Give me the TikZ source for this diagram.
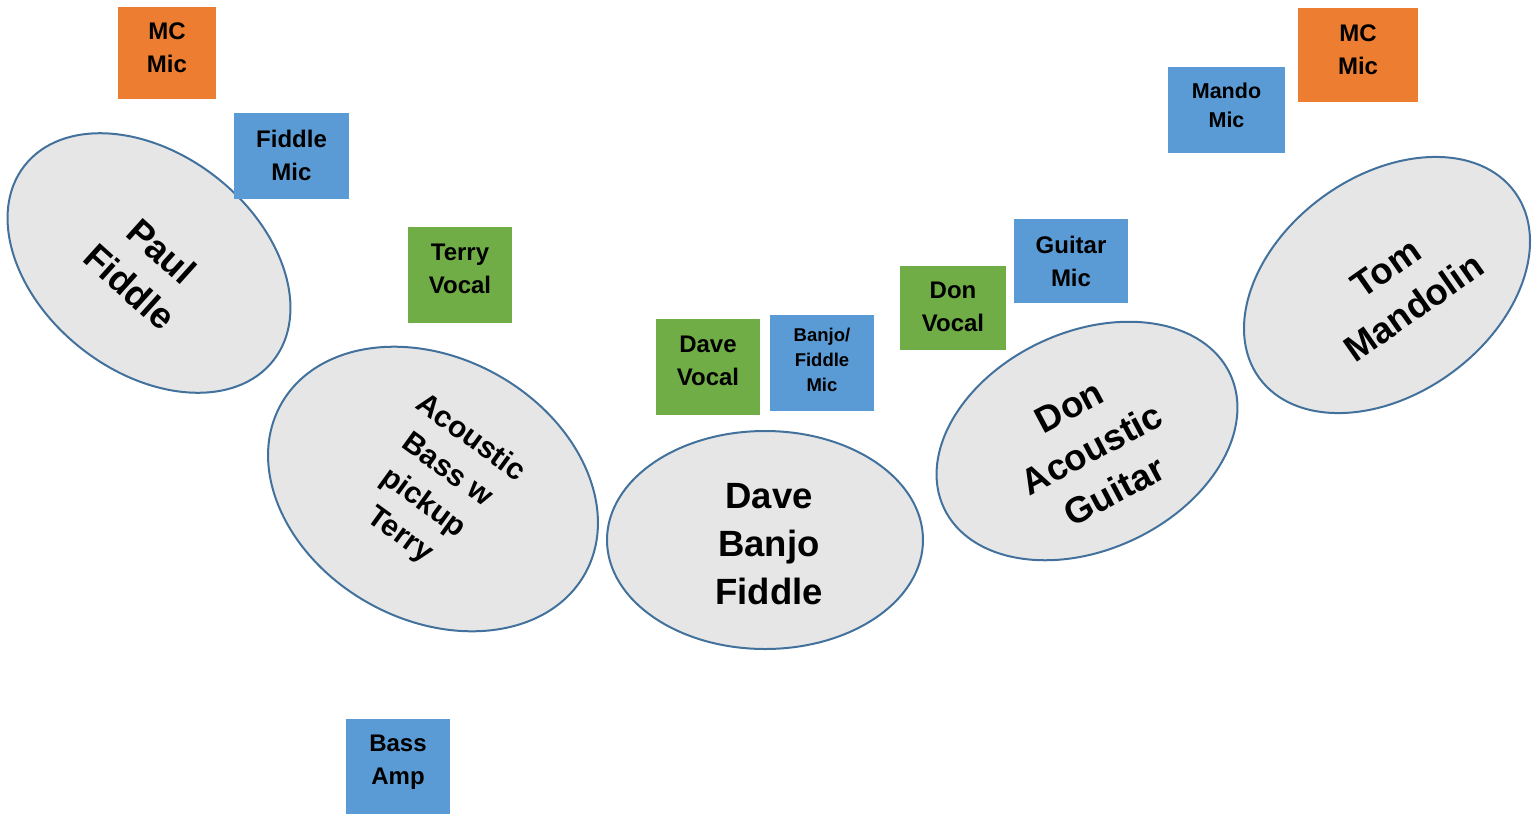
\documentclass[tikz,border=0pt]{standalone}
\usepackage{fontspec}
\setmainfont{Liberation Sans}
\usetikzlibrary{shapes.geometric}
\definecolor{mblue}{HTML}{5B9BD5}
\definecolor{morange}{HTML}{ED7D31}
\definecolor{mgreen}{HTML}{70AD47}
\definecolor{eline}{HTML}{41719C}
\definecolor{efill}{HTML}{E6E6E6}
\tikzset{
  oval/.style={ellipse, draw=eline, line width=2pt, fill=efill, inner sep=0pt, minimum width=316pt, minimum height=218pt},
  ovaltext/.style={align=center, font=\fontsize{36.5}{48}\selectfont\bfseries, text=black, inner sep=0pt},
  boxbase/.style={rectangle, draw=none, inner sep=0pt},
  boxtext/.style={inner sep=0pt, align=center, text=black, font=\fontsize{24}{33}\selectfont\bfseries},
  bluebox/.style={boxbase, fill=mblue},
  orangebox/.style={boxbase, fill=morange},
  greenbox/.style={boxbase, fill=mgreen},
}
\begin{document}
\begin{tikzpicture}[x=1pt,y=-1pt]
\useasboundingbox (0,0) rectangle (1540,815);
% ellipses
\node[oval, rotate=-38] (paul) at (149,263) {};
\node[ovaltext, rotate=-42] (paultxt) at ([shift={(-3,6)}]paul.center) {Paul\\Fiddle};
\node[oval, rotate=-29, minimum width=348pt, minimum height=262pt] (bass) at (433,489) {};
\node[ovaltext, rotate=-36, font=\fontsize{30}{40}\selectfont\bfseries] (basstxt) at ([shift={(2,-2)}]bass.center) {Acoustic\\Bass w\\pickup\\Terry};
\node[oval] (dave) at (765,540) {};
\node[ovaltext] (davetxt) at ([shift={(4,4)}]dave.center) {Dave\\Banjo\\Fiddle};
\node[oval, rotate=25] (don) at (1087,441) {};
\node[ovaltext, rotate=28] (dontxt) at ([shift={(5,8)}]don.center) {Don\\Acoustic\\Guitar};
\node[oval, rotate=36] (tom) at (1387,285) {};
\node[ovaltext, rotate=35] (tomtxt) at ([shift={(13,3)}]tom.center) {Tom\\Mandolin};
% boxes
\node[orangebox, minimum width=98pt, minimum height=92pt] (mc1) at (167,53) {};
\node[boxtext] (mc1txt) at ([shift={(0,-5)}]mc1.center) {MC\\Mic};
\node[bluebox, minimum width=115pt, minimum height=86pt] (fmic) at (291.5,156) {};
\node[boxtext] (fmictxt) at ([shift={(0,-1)}]fmic.center) {Fiddle\\Mic};
\node[greenbox, minimum width=104pt, minimum height=96pt] (tvoc) at (460,275) {};
\node[boxtext] (tvoctxt) at ([shift={(0,-6)}]tvoc.center) {Terry\\Vocal};
\node[greenbox, minimum width=104pt, minimum height=96pt] (dvoc) at (708,367) {};
\node[boxtext] (dvoctxt) at ([shift={(0,-6)}]dvoc.center) {Dave\\Vocal};
\node[bluebox, minimum width=104pt, minimum height=96pt] (bfmic) at (822,363) {};
\node[boxtext, font=\fontsize{18.5}{25}\selectfont\bfseries] (bfmictxt) at ([shift={(0,-3)}]bfmic.center) {Banjo/\\Fiddle\\Mic};
\node[greenbox, minimum width=106pt, minimum height=84pt] (donvoc) at (953,308) {};
\node[boxtext] (donvoctxt) at ([shift={(0,-1)}]donvoc.center) {Don\\Vocal};
\node[bluebox, minimum width=114pt, minimum height=84pt] (gmic) at (1071,261) {};
\node[boxtext] (gmictxt) at ([shift={(0,0)}]gmic.center) {Guitar\\Mic};
\node[bluebox, minimum width=117pt, minimum height=86pt] (mmic) at (1226.5,110) {};
\node[boxtext, font=\fontsize{21.5}{29}\selectfont\bfseries] (mmictxt) at ([shift={(0,-5)}]mmic.center) {Mando\\Mic};
\node[orangebox, minimum width=120pt, minimum height=94pt] (mc2) at (1358,55) {};
\node[boxtext] (mc2txt) at ([shift={(0,-5)}]mc2.center) {MC\\Mic};
\node[bluebox, minimum width=104pt, minimum height=95pt] (bamp) at (398,766.5) {};
\node[boxtext] (bamptxt) at ([shift={(0,-4)}]bamp.center) {Bass\\Amp};
\end{tikzpicture}
\end{document}
